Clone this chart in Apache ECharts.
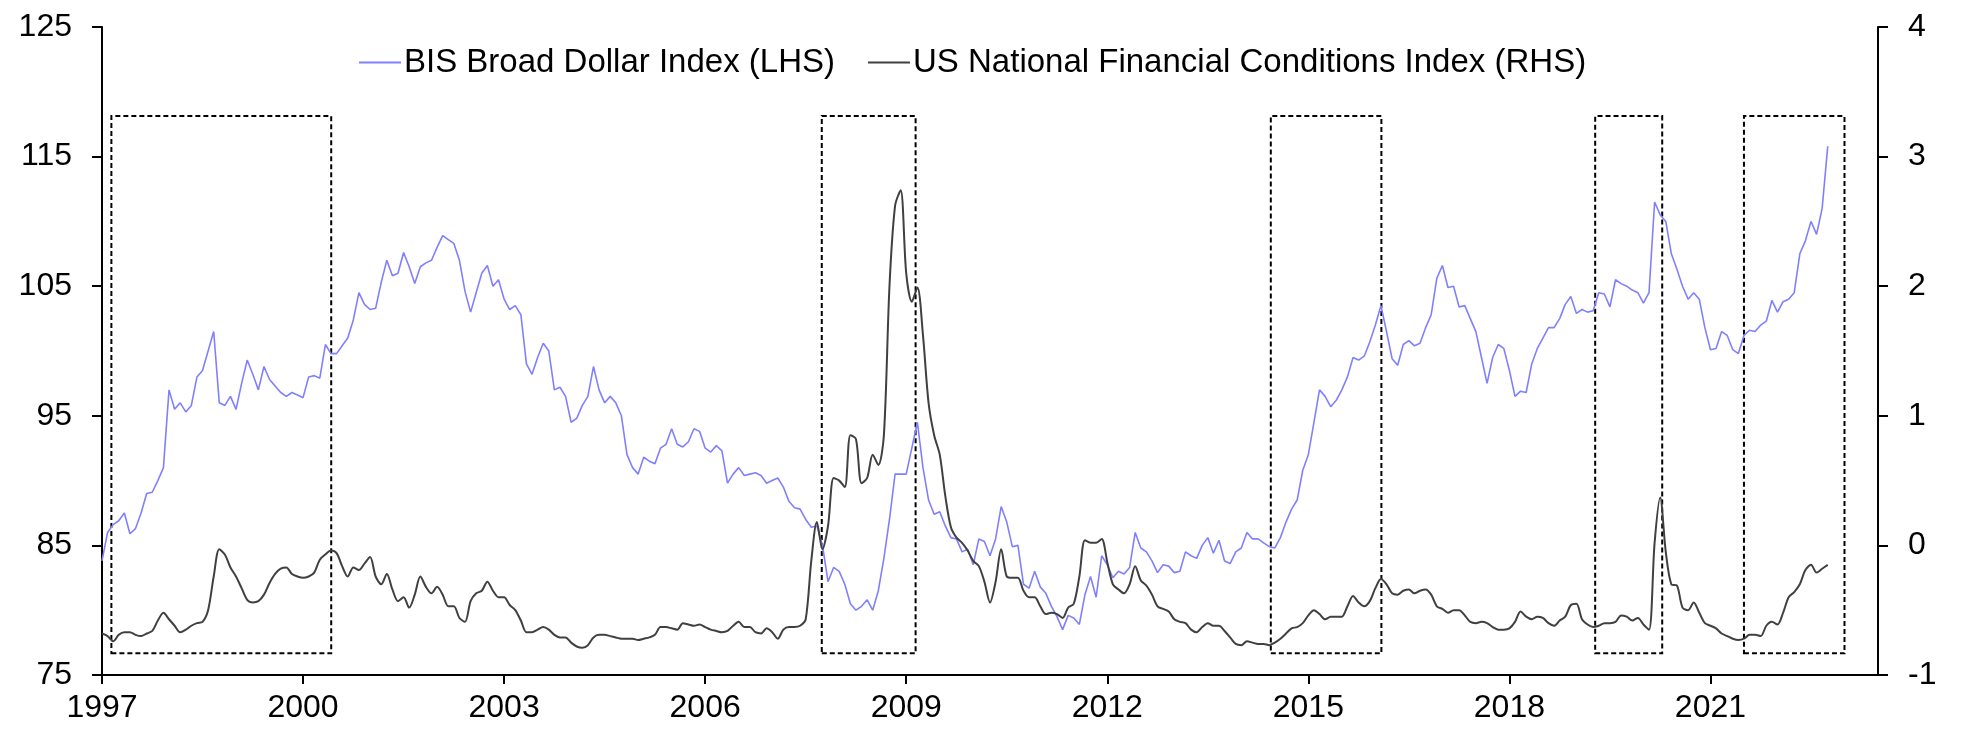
<!DOCTYPE html>
<html>
<head>
<meta charset="utf-8">
<script src="https://cdn.jsdelivr.net/npm/echarts@6/dist/echarts.min.js"></script>
<style>
html,body{margin:0;padding:0;background:#fff;}
#chart{width:1963px;height:736px;}
</style>
</head>
<body>
<div id="chart"></div>
<script>
// Monthly observations starting January 1997
const startYear = 1997;
const seriesNames = ['BIS Broad Dollar Index (LHS)', 'US National Financial Conditions Index (RHS)'];

const dollarIndex = [
83.8,86.0,86.6,86.9,87.5,85.9,86.3,87.5,89.0,89.1,90.0,91.0,
97.0,95.5,96.0,95.3,95.8,98.0,98.5,100.0,101.5,96.0,95.8,96.5,
95.5,97.5,99.3,98.2,97.0,98.8,97.8,97.3,96.8,96.5,96.8,96.6,
96.4,98.0,98.1,97.9,100.5,99.8,99.8,100.4,101.0,102.4,104.5,103.6,
103.2,103.3,105.3,107.0,105.8,106.0,107.6,106.5,105.2,106.5,106.8,107.0,
108.0,108.9,108.6,108.3,107.0,104.6,103.0,104.5,106.0,106.6,105.0,105.5,
104.0,103.2,103.5,102.8,99.0,98.2,99.5,100.6,100.0,97.0,97.2,96.5,
94.5,94.8,95.8,96.5,98.8,97.0,96.0,96.5,96.0,95.0,92.0,91.0,
90.5,91.8,91.5,91.3,92.5,92.8,94.0,92.8,92.6,93.0,94.0,93.8,
92.5,92.2,92.7,92.3,89.8,90.5,91.0,90.4,90.5,90.6,90.4,89.8,
90.0,90.2,89.5,88.4,87.9,87.8,87.0,86.4,86.5,85.0,82.2,83.3,
83.0,82.0,80.5,80.0,80.3,80.8,80.0,81.5,84.0,87.0,90.5,90.5,
90.5,92.5,94.5,91.0,88.5,87.4,87.6,86.5,85.6,85.5,84.5,84.7,
83.5,85.5,85.3,84.2,85.5,88.0,86.8,84.9,85.0,82.0,81.7,83.0,
81.8,81.3,80.3,79.5,78.5,79.6,79.4,78.9,81.2,82.6,81.0,84.2,
83.5,82.5,83.0,82.8,83.3,86.0,84.8,84.5,83.8,82.9,83.5,83.4,
82.9,83.0,84.5,84.2,84.0,85.0,85.6,84.4,85.4,83.8,83.6,84.5,
84.8,86.0,85.5,85.5,85.2,84.9,84.8,85.6,86.8,87.8,88.5,90.8,
92.0,94.5,97.0,96.5,95.7,96.2,97.0,98.0,99.5,99.3,99.6,100.7,
102.0,103.5,101.5,99.4,98.9,100.5,100.8,100.4,100.6,101.8,102.8,105.6,
106.6,104.9,105.0,103.4,103.5,102.5,101.5,99.5,97.5,99.5,100.5,100.2,
98.5,96.5,96.9,96.8,99.0,100.2,101.0,101.8,101.8,102.5,103.6,104.2,
102.9,103.2,103.0,103.1,104.5,104.4,103.4,105.5,105.2,105.0,104.7,104.5,
103.7,104.5,111.5,110.5,110.0,107.5,106.3,105.0,104.0,104.5,104.0,101.8,
100.1,100.2,101.5,101.2,100.1,99.8,101.2,101.6,101.5,102.0,102.3,103.9,
103.0,103.8,104.0,104.5,107.5,108.5,110.0,109.0,111.0,115.8
];

const nfci = [
-0.68,-0.70,-0.74,-0.69,-0.67,-0.67,-0.69,-0.70,-0.68,-0.66,-0.58,-0.52,
-0.57,-0.62,-0.67,-0.65,-0.62,-0.60,-0.59,-0.50,-0.24,-0.03,-0.07,-0.17,
-0.24,-0.33,-0.42,-0.44,-0.43,-0.38,-0.29,-0.22,-0.18,-0.17,-0.22,-0.24,
-0.25,-0.24,-0.21,-0.11,-0.07,-0.04,-0.06,-0.16,-0.24,-0.17,-0.19,-0.14,
-0.09,-0.24,-0.30,-0.22,-0.34,-0.43,-0.40,-0.48,-0.38,-0.24,-0.32,-0.37,
-0.32,-0.38,-0.47,-0.47,-0.56,-0.59,-0.43,-0.37,-0.35,-0.28,-0.35,-0.40,
-0.40,-0.46,-0.50,-0.58,-0.67,-0.67,-0.65,-0.63,-0.65,-0.69,-0.71,-0.71,
-0.75,-0.78,-0.79,-0.77,-0.71,-0.69,-0.69,-0.70,-0.71,-0.72,-0.72,-0.72,
-0.73,-0.72,-0.71,-0.69,-0.63,-0.63,-0.64,-0.65,-0.60,-0.61,-0.62,-0.61,
-0.63,-0.65,-0.66,-0.67,-0.66,-0.62,-0.59,-0.63,-0.63,-0.67,-0.68,-0.64,
-0.67,-0.72,-0.65,-0.63,-0.63,-0.62,-0.57,-0.12,0.18,-0.03,0.15,0.52,
0.50,0.45,0.85,0.82,0.48,0.52,0.70,0.62,0.85,2.00,2.62,2.74,
2.10,1.88,1.99,1.62,1.10,0.85,0.70,0.38,0.14,0.06,0.02,-0.04,
-0.12,-0.16,-0.28,-0.44,-0.28,-0.03,-0.24,-0.25,-0.25,-0.35,-0.40,-0.40,
-0.47,-0.53,-0.52,-0.53,-0.56,-0.48,-0.45,-0.24,0.04,0.02,0.02,0.05,
-0.13,-0.30,-0.34,-0.37,-0.30,-0.16,-0.27,-0.31,-0.38,-0.47,-0.49,-0.51,
-0.57,-0.59,-0.60,-0.65,-0.67,-0.63,-0.60,-0.62,-0.62,-0.66,-0.71,-0.76,
-0.77,-0.74,-0.75,-0.76,-0.76,-0.77,-0.75,-0.72,-0.68,-0.64,-0.63,-0.60,
-0.54,-0.50,-0.53,-0.57,-0.55,-0.55,-0.55,-0.47,-0.39,-0.44,-0.47,-0.43,
-0.33,-0.26,-0.30,-0.37,-0.38,-0.35,-0.34,-0.37,-0.35,-0.34,-0.38,-0.47,
-0.49,-0.52,-0.50,-0.50,-0.54,-0.59,-0.60,-0.59,-0.60,-0.63,-0.65,-0.65,
-0.64,-0.59,-0.51,-0.55,-0.57,-0.55,-0.56,-0.60,-0.62,-0.58,-0.55,-0.46,
-0.45,-0.57,-0.61,-0.63,-0.62,-0.60,-0.60,-0.59,-0.54,-0.55,-0.58,-0.56,
-0.61,-0.65,0.02,0.37,-0.05,-0.30,-0.31,-0.48,-0.50,-0.44,-0.52,-0.60,
-0.62,-0.64,-0.68,-0.70,-0.72,-0.73,-0.72,-0.69,-0.69,-0.70,-0.62,-0.59,
-0.61,-0.52,-0.40,-0.36,-0.30,-0.19,-0.15,-0.21,-0.18,-0.15
];

// Highlighted periods (decimal years) and their vertical extent on the LHS scale
const boxStart = [1997.14, 2007.74, 2014.44, 2019.28, 2021.50];
const boxEnd   = [2000.42, 2009.14, 2016.09, 2020.28, 2023.00];
const boxLow = 76.67, boxHigh = 118.13;

const leftTicks = {min: 75, max: 125, interval: 10};
const rightTicks = {min: -1, max: 4, interval: 1};
const xRange = {min: 0, max: 26.5, interval: 3}; // years since 1997

const toPairs = arr => arr.map((v, i) => [i / 12, v]);
const boxes = boxStart.map((s, k) => [
  {xAxis: s - startYear, yAxis: boxLow},
  {xAxis: boxEnd[k] - startYear, yAxis: boxHigh}
]);

const FONT = 'Liberation Sans, Arial, sans-serif';
const chart = echarts.init(document.getElementById('chart'), null, {renderer: 'canvas'});
chart.setOption({
  animation: false,
  backgroundColor: '#ffffff',
  textStyle: {fontFamily: FONT},
  grid: {left: 102, right: 85, top: 27, bottom: 61, containLabel: false},
  legend: {
    left: 354, top: 41,
    itemWidth: 42, itemHeight: 2, itemGap: 33,
    icon: 'rect',
    textStyle: {fontSize: 33, color: '#000', fontFamily: FONT, padding: [0,0,0,-2]},
    data: seriesNames
  },
  xAxis: {
    type: 'value', min: xRange.min, max: xRange.max, interval: xRange.interval,
    axisLine: {onZero: false, lineStyle: {color: '#000', width: 2}},
    axisTick: {show: true, length: 9, lineStyle: {color: '#000', width: 2}},
    axisLabel: {fontSize: 32, color: '#000', margin: 17, fontFamily: FONT,
      formatter: v => String(v + startYear), showMaxLabel: false},
    splitLine: {show: false}
  },
  yAxis: [{
    type: 'value', position: 'left', min: leftTicks.min, max: leftTicks.max, interval: leftTicks.interval,
    axisLine: {show: true, onZero: false, lineStyle: {color: '#000', width: 2}},
    axisTick: {show: true, length: 10, lineStyle: {color: '#000', width: 2}},
    axisLabel: {fontSize: 32, color: '#000', margin: 30, fontFamily: FONT},
    splitLine: {show: false}
  }, {
    type: 'value', position: 'right', min: rightTicks.min, max: rightTicks.max, interval: rightTicks.interval,
    axisLine: {show: true, onZero: false, lineStyle: {color: '#000', width: 2}},
    axisTick: {show: true, length: 10, lineStyle: {color: '#000', width: 2}},
    axisLabel: {fontSize: 32, color: '#000', margin: 30, fontFamily: FONT},
    splitLine: {show: false}
  }],
  series: [{
    name: seriesNames[0], type: 'line', yAxisIndex: 0,
    data: toPairs(dollarIndex), showSymbol: false, symbol: 'none',
    lineStyle: {color: '#8080ff', width: 1.6}, itemStyle: {color: '#8080ff'},
    markArea: {
      silent: true,
      itemStyle: {color: 'rgba(0,0,0,0)', borderColor: '#000', borderWidth: 2, borderType: [5, 3]},
      data: boxes
    },
    z: 2
  }, {
    name: seriesNames[1], type: 'line', yAxisIndex: 1,
    data: toPairs(nfci), showSymbol: false, symbol: 'none', smooth: 0.3,
    lineStyle: {color: '#404040', width: 2}, itemStyle: {color: '#404040'},
    z: 3
  }]
});
</script>
</body>
</html>
